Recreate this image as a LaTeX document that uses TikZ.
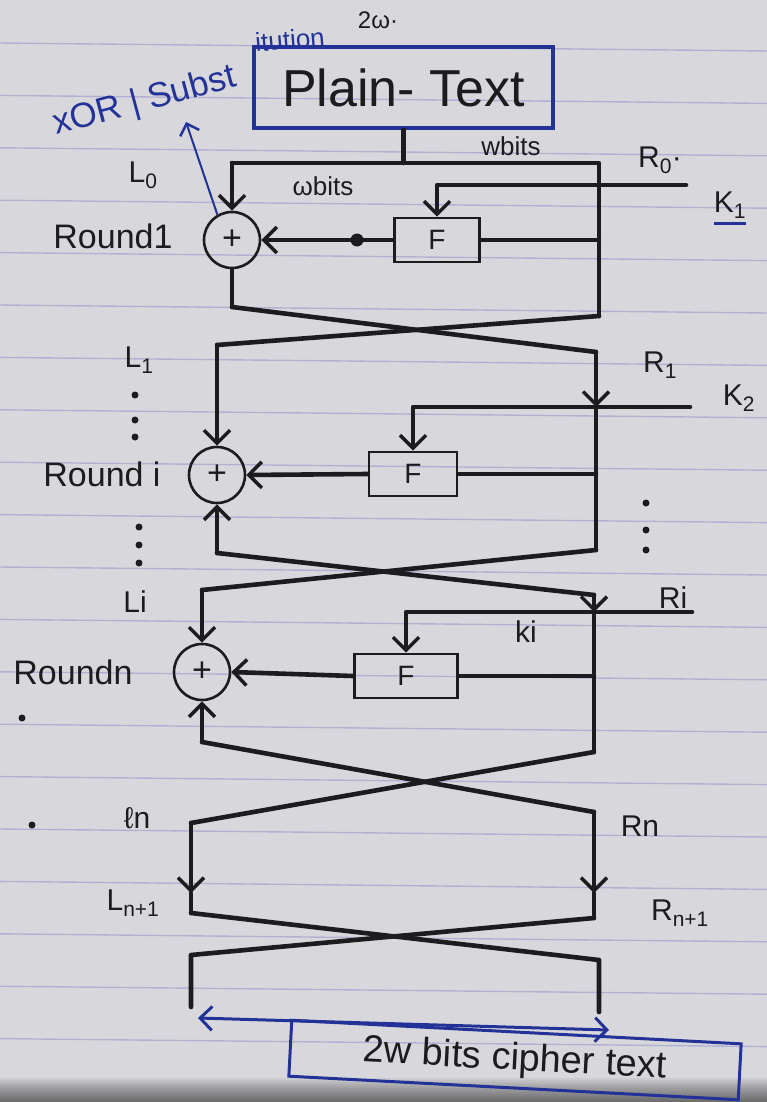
\documentclass[tikz,border=0pt]{standalone}
\usepackage{fontspec}
\setmainfont{Liberation Sans}
\usetikzlibrary{arrows.meta}
\definecolor{paper}{RGB}{216,216,220}
\definecolor{rulec}{RGB}{150,150,205}
\definecolor{ink}{RGB}{28,28,30}
\definecolor{bink}{RGB}{35,50,150}
\begin{document}
\begin{tikzpicture}[x=1pt,y=-1pt,
  thk/.style={line width=4.6pt, draw=ink, line cap=round, line join=round},
  arr/.style={-{Straight Barb[length=13pt,width=26pt,line width=3.5pt]}},
  barr/.style={-{Straight Barb[length=10pt,width=20pt,line width=2.5pt]}},
  xorc/.style={circle, draw=ink, line width=2.6pt, minimum size=56pt, inner sep=0pt, text=ink, font=\fontsize{34}{34}\selectfont},
  fbox/.style={draw=ink, line width=2.6pt, minimum height=44pt, inner sep=0pt, text=ink, font=\fontsize{28}{28}\selectfont},
  lbl/.style={text=ink, inner sep=0pt, font=\fontsize{30}{32}\selectfont},
  rlbl/.style={text=ink, inner sep=0pt, font=\fontsize{34}{36}\selectfont},
]
\useasboundingbox (0,0) rectangle (767,1102);
% paper
\fill[paper] (0,0) rectangle (767,1102);
\foreach \i in {0,...,19} \draw[rulec, line width=1.4pt, opacity=0.6] (0,{43+52.4*\i}) -- (767,{51+52.4*\i});
\foreach \j in {0,...,11} \fill[black, opacity=0.05] (0,{1078+2*\j}) rectangle (767,1102);

% plain text box and notes
\node[draw=bink, line width=4pt, minimum width=299pt, minimum height=81pt, inner sep=0pt, text=ink, font=\fontsize{52}{54}\selectfont] (pt) at (403.5,87.5) {Plain- Text};
\node[lbl, font=\fontsize{24}{24}\selectfont] (w2) at (378,20) {2ω·};
\node[lbl, text=bink, rotate=15, font=\fontsize{35}{35}\selectfont, anchor=base west] (xs) at (56,135) {xOR | Subst};
\node[lbl, text=bink, rotate=5, font=\fontsize{26}{26}\selectfont, anchor=base west] (xs2) at (256,52) {itution};

% round 1
\node[xorc] (x1) at (232,240) {+};
\node[fbox, minimum width=85pt] (f1) at (437,240) {F};
\coordinate (s0) at (403.5,163);
\coordinate (l0) at (232,163);
\coordinate (r0) at (599,163);
\coordinate (r0b) at (599,316);
\coordinate (k1) at (686,185);
\coordinate (k1c) at (437,185);
\coordinate (xa) at (186,122);
\coordinate (c1l) at (232,307);
\draw[thk] (pt.south) -- (s0);
\draw[thk] (l0) -- (r0) -- (r0b);
\draw[thk,arr] (l0) -- (x1.north);
\draw[thk,arr] (k1) -- (k1c) -- (f1.north);
\draw[thk] (f1.east) -- (f1.east -| r0);
\draw[thk,arr] (f1.west) -- (x1.east);
\fill[ink] (357,240) circle (6.5pt);
\draw[bink, line width=2pt, barr] (x1.120) -- (xa);
\draw[thk] (x1.south) -- (c1l);

% cross 1
\coordinate (l1) at (217,345);
\coordinate (r1) at (596,352);
\draw[thk] (c1l) -- (r1);
\draw[thk] (r0b) -- (l1);

% round i
\node[xorc] (x2) at (217,475) {+};
\node[fbox, minimum width=88pt] (f2) at (413,474) {F};
\coordinate (r1k) at (596,407);
\coordinate (r1b) at (596,550);
\coordinate (k2) at (690,407);
\coordinate (k2c) at (413,407);
\coordinate (c2l) at (217,553);
\draw[thk,arr] (l1) -- (x2.north);
\draw[thk,arr] (r1) -- (r1k);
\draw[thk] (r1k) -- (r1b);
\draw[thk,arr] (k2) -- (k2c) -- (f2.north);
\draw[thk] (f2.east) -- (f2.east -| r1);
\draw[thk,arr] (f2.west) -- (x2.east);
\draw[thk,arr] (c2l) -- (x2.south);

% cross 2
\coordinate (li) at (202,590);
\coordinate (ri) at (594,595);
\draw[thk] (c2l) -- (ri);
\draw[thk] (r1b) -- (li);

% round n
\node[xorc] (x3) at (202,672) {+};
\node[fbox, minimum width=103pt] (f3) at (406,676) {F};
\coordinate (rik) at (594,612);
\coordinate (rib) at (594,752);
\coordinate (k3) at (692,612);
\coordinate (k3c) at (406,612);
\coordinate (c3l) at (202,742);
\draw[thk,arr] (li) -- (x3.north);
\draw[thk,arr] (ri) -- (rik);
\draw[thk] (rik) -- (rib);
\draw[thk,arr] (k3) -- (k3c) -- (f3.north);
\draw[thk] (f3.east) -- (f3.east -| ri);
\draw[thk,arr] (f3.west) -- (x3.east);
\draw[thk,arr] (c3l) -- (x3.south);

% cross 3
\coordinate (ln) at (191,823);
\coordinate (rn) at (594,812);
\draw[thk] (c3l) -- (rn);
\draw[thk] (rib) -- (ln);

% final stage
\coordinate (lna) at (191,893);
\coordinate (lnb) at (191,913);
\coordinate (rna) at (594,893);
\coordinate (rnb) at (594,918);
\draw[thk,arr] (ln) -- (lna);
\draw[thk] (lna) -- (lnb);
\draw[thk,arr] (rn) -- (rna);
\draw[thk] (rna) -- (rnb);
\coordinate (lo) at (191,955);
\coordinate (ro) at (599,960);
\coordinate (loe) at (191,1007);
\coordinate (roe) at (599,1012);
\draw[thk] (lnb) -- (ro) -- (roe);
\draw[thk] (rnb) -- (lo) -- (loe);

% cipher text
\node[draw=bink, line width=3pt, rotate=-3, minimum width=450pt, minimum height=56pt, inner sep=0pt, text=ink, font=\fontsize{38}{40}\selectfont] (ct) at (515,1060) {2w bits cipher text};
\coordinate (ca) at (198,1018);
\coordinate (cb) at (609,1030);
\draw[bink, line width=3pt, {Straight Barb[length=12pt,width=24pt,line width=3pt]}-{Straight Barb[length=12pt,width=24pt,line width=3pt]}] (ca) -- (cb);

% labels
\node[lbl] (tl0) at (143,175) {L\textsubscript{0}};
\node[lbl, font=\fontsize{26}{28}\selectfont] (twb1) at (323,186) {ωbits};
\node[lbl, font=\fontsize{26}{28}\selectfont] (twb2) at (511,146) {wbits};
\node[lbl] (tr0) at (660,160) {R\textsubscript{0}·};
\node[lbl] (tk1) at (730,205) {K\textsubscript{1}};
\draw[bink, line width=3pt] (714,223) -- (746,223);
\node[rlbl] (trd1) at (113,236) {Round1};
\node[lbl] (tl1) at (139,360) {L\textsubscript{1}};
\node[lbl] (tr1) at (660,365) {R\textsubscript{1}};
\node[lbl] (tk2) at (739,398) {K\textsubscript{2}};
\node[rlbl] (trdi) at (102,474) {Round i};
\node[lbl] (tli) at (135,602) {Li};
\node[lbl] (tri) at (673,598) {Ri};
\node[lbl] (tki) at (526,632) {ki};
\node[rlbl] (trdn) at (73,672) {Roundn};
\node[lbl] (tln) at (137,818) {ℓn};
\node[lbl] (trn) at (640,826) {Rn};
\node[lbl] (tln1) at (133,903) {L\textsubscript{n+1}};
\node[lbl] (trn1) at (680,913) {R\textsubscript{n+1}};

% dots
\foreach \p in {(135,395),(135,420),(135,437),(139,527),(139,545),(139,563),(646,503),(646,530),(646,550),(22,718),(32,825)}
  \fill[ink] \p circle (3.5pt);
\end{tikzpicture}
\end{document}
